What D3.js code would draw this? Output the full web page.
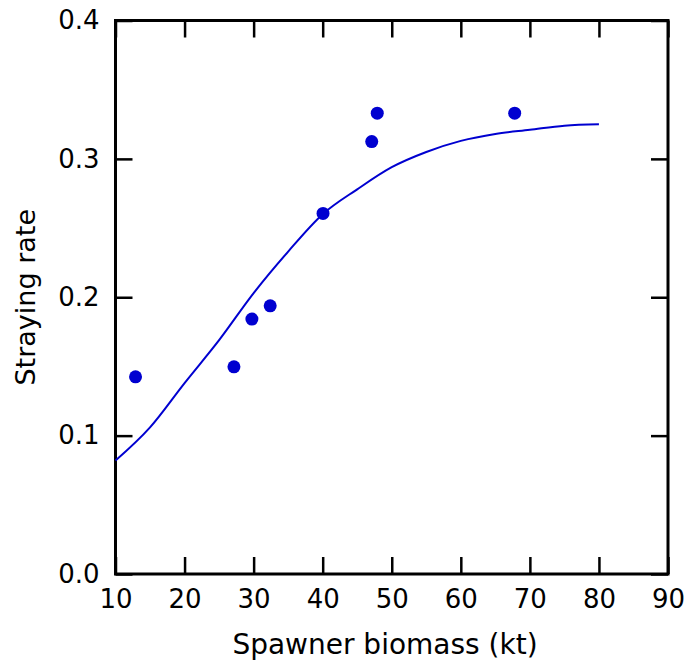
<!DOCTYPE html>
<html>
<head>
<meta charset="utf-8">
<script src="https://cdn.jsdelivr.net/npm/d3@7"></script>
<style>
  body { margin: 0; background: #fff; }
  svg { display: block; }
</style>
</head>
<body>
<div id="chart"></div>
<script>
// observed points (spawner biomass kt, straying rate)
const biomass = [12.9, 27.15, 29.75, 32.4, 40.05, 47.1, 47.9, 67.8]
const straying = [0.1425, 0.1497, 0.1842, 0.1938, 0.2606, 0.3125, 0.333, 0.333]

// fitted curve
const fitBiomass = [10, 15, 20, 25, 30, 35, 40, 45, 50, 55, 60, 65, 70, 75, 80]
const fitRate = [0.082, 0.106, 0.138, 0.169, 0.203, 0.233, 0.260, 0.278, 0.294, 0.305, 0.313, 0.318, 0.321, 0.324, 0.325]

const xTicks = [10, 20, 30, 40, 50, 60, 70, 80, 90]
const yTicks = [0, 0.1, 0.2, 0.3, 0.4]

const width = 687
const height = 667
const margin = { top: 20.5, right: 19, bottom: 93, left: 115.5 }
const blue = '#0000d0'
const font = '"DejaVu Sans", Verdana, sans-serif'

const svg = d3.select('#chart')
  .append('svg')
  .attr('width', width)
  .attr('height', height)

const x = d3.scaleLinear()
  .domain([10, 90])
  .range([margin.left, width - margin.right])

const y = d3.scaleLinear()
  .domain([0, 0.4])
  .range([height - margin.bottom, margin.top])

const tickLen = 17

// bottom axis with labels, ticks pointing inward
const axisB = svg.append('g')
  .attr('transform', `translate(0, ${y(0)})`)
  .call(d3.axisBottom(x).tickValues(xTicks).tickSizeInner(-tickLen).tickSizeOuter(0).tickPadding(16))
const axisL = svg.append('g')
  .attr('transform', `translate(${x(10)}, 0)`)
  .call(d3.axisLeft(y).tickValues(yTicks).tickFormat(d3.format('.1f')).tickSizeInner(-tickLen).tickSizeOuter(0).tickPadding(16))
// top and right: ticks only
const axisT = svg.append('g')
  .attr('transform', `translate(0, ${y(0.4)})`)
  .call(d3.axisTop(x).tickValues(xTicks).tickFormat('').tickSizeInner(-tickLen).tickSizeOuter(0))
const axisR = svg.append('g')
  .attr('transform', `translate(${x(90)}, 0)`)
  .call(d3.axisRight(y).tickValues(yTicks).tickFormat('').tickSizeInner(-tickLen).tickSizeOuter(0))

for (const g of [axisB, axisL, axisT, axisR]) {
  g.select('.domain').remove()
  g.selectAll('.tick line').attr('stroke', '#000').attr('stroke-width', 2.5)
  g.selectAll('.tick text')
    .attr('fill', '#000')
    .style('font-family', font)
    .style('font-size', '26px')
}

// frame
svg.append('rect')
  .attr('x', x(10))
  .attr('y', y(0.4))
  .attr('width', x(90) - x(10))
  .attr('height', y(0) - y(0.4))
  .attr('fill', 'none')
  .attr('stroke', '#000')
  .attr('stroke-width', 3)

// fitted curve
const line = d3.line()
  .x(d => x(d[0]))
  .y(d => y(d[1]))
  .curve(d3.curveMonotoneX)

svg.append('path')
  .datum(fitBiomass.map((b, i) => [b, fitRate[i]]))
  .attr('d', line)
  .attr('fill', 'none')
  .attr('stroke', blue)
  .attr('stroke-width', 2)

// points
svg.append('g')
  .selectAll('circle')
  .data(biomass.map((b, i) => [b, straying[i]]))
  .join('circle')
  .attr('cx', d => x(d[0]))
  .attr('cy', d => y(d[1]))
  .attr('r', 6.5)
  .attr('fill', blue)

// axis titles
svg.append('text')
  .attr('x', 385)
  .attr('y', 654)
  .attr('text-anchor', 'middle')
  .style('font-family', font)
  .style('font-size', '28px')
  .text('Spawner biomass (kt)')

svg.append('text')
  .attr('transform', `translate(35, ${(y(0) + y(0.4)) / 2}) rotate(-90)`)
  .attr('text-anchor', 'middle')
  .style('font-family', font)
  .style('font-size', '27px')
  .text('Straying rate')
</script>
</body>
</html>
